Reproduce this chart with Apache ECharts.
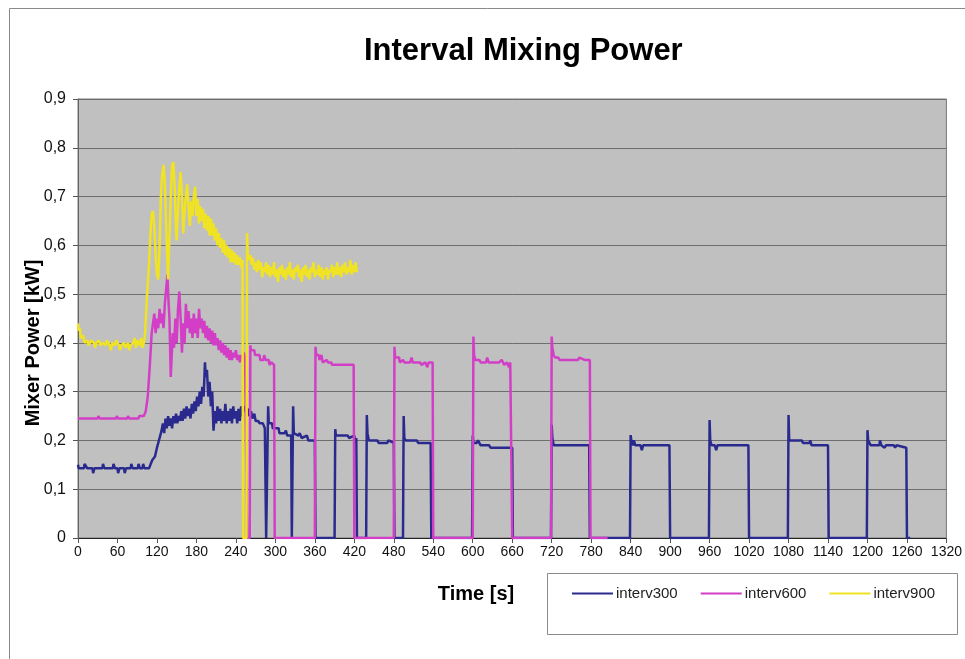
<!DOCTYPE html>
<html>
<head>
<meta charset="utf-8">
<title>Interval Mixing Power</title>
<script src="https://cdn.jsdelivr.net/npm/echarts/dist/echarts.min.js"></script>
<style>
  html, body { margin: 0; padding: 0; background: #ffffff; }
  #chart { width: 965px; height: 659px; }
</style>
</head>
<body>
<div id="chart"></div>
<script>
// Mixer power traces, [time in s, power in kW]
const interv300 = [
  [0,0.15],[1,0.143],[9,0.143],[10,0.152],[13,0.152],[14,0.143],[22,0.143],[23,0.133],[25,0.143],
  [37,0.143],[38,0.152],[40,0.143],[53,0.143],[54,0.152],[56,0.143],[60,0.143],[61,0.133],[63,0.143],
  [70,0.143],[71,0.133],[73,0.143],[80,0.143],[81,0.152],[83,0.143],[91,0.143],[92,0.152],[94,0.143],
  [98,0.143],[99,0.152],[101,0.143],[108,0.143],[110,0.15],[113,0.16],[117,0.167],[120,0.185],
  [122,0.195],[125,0.21],[127,0.22],[129,0.235],[131,0.215],[133,0.245],[135,0.225],[137,0.25],
  [139,0.23],[141,0.245],[143,0.225],[145,0.25],[147,0.235],[149,0.255],[151,0.235],[153,0.25],
  [155,0.24],[157,0.26],[159,0.24],[161,0.265],[163,0.245],[165,0.27],[167,0.25],[169,0.265],
  [171,0.245],[173,0.275],[175,0.255],[177,0.28],[179,0.26],[181,0.29],[183,0.27],[185,0.3],
  [187,0.275],[189,0.31],[191,0.29],[193,0.36],[194,0.33],[196,0.345],[198,0.29],[200,0.32],
  [202,0.27],[204,0.3],[206,0.22],[208,0.26],[210,0.235],[212,0.27],[214,0.24],[216,0.265],
  [218,0.235],[220,0.26],[222,0.24],[224,0.275],[226,0.235],[228,0.26],[230,0.24],[232,0.265],
  [234,0.235],[236,0.27],[238,0.245],[240,0.26],[242,0.235],[244,0.265],[246,0.24],[248,0.27],
  [250,0.25],[252,0.27],[255,0.26],[258,0.265],[260,0.25],[263,0.26],[265,0.245],[268,0.255],
  [270,0.24],[274,0.24],[276,0.235],[281,0.235],[284,0.225],[285,0.225],[286,0],[288,0],
  [289,0.27],[290,0.235],[295,0.235],[296,0.225],[305,0.225],[306,0.215],[314,0.215],[316,0.22],
  [318,0.21],[324,0.21],[325,0],[326,0],[327,0.27],[328,0.215],[335,0.21],[337,0.215],[340,0.205],
  [348,0.21],[350,0.2],[360,0.2],[361,0],[390,0],[391,0.223],[392,0.21],[410,0.21],[412,0.205],
  [420,0.21],[421,0.195],[423,0.205],[424,0],[438,0],[439,0.252],[440,0.215],[442,0.2],[455,0.2],
  [457,0.195],[470,0.195],[472,0.2],[480,0.195],[481,0],[494,0],[495,0.25],[496,0.205],[498,0.2],
  [515,0.2],[517,0.195],[536,0.195],[537,0],[599,0],[600,0.21],[601,0.195],[606,0.195],[608,0.2],
  [612,0.19],[625,0.19],[627,0.185],[660,0.185],[661,0],[719,0],[720,0.232],[721,0.205],[723,0.19],
  [777,0.19],[778,0],[839,0],[840,0.211],[841,0.2],[843,0.19],[845,0.2],[847,0.19],[855,0.19],
  [857,0.18],[859,0.19],[899,0.19],[900,0],[959,0],[960,0.242],[961,0.2],[963,0.19],[968,0.19],
  [970,0.18],[972,0.19],[1019,0.19],[1020,0],[1079,0],[1080,0.252],[1081,0.2],[1100,0.2],
  [1102,0.195],[1112,0.195],[1113,0.2],[1115,0.19],[1140,0.19],[1141,0],[1199,0],[1200,0.221],
  [1201,0.2],[1205,0.19],[1218,0.19],[1219,0.2],[1221,0.19],[1226,0.185],[1228,0.19],[1240,0.19],
  [1242,0.185],[1244,0.19],[1259,0.185],[1260,0],[1265,0]
];

const interv600 = [
  [0,0.245],[30,0.245],[31,0.25],[33,0.245],[58,0.245],[59,0.25],[61,0.245],[75,0.245],[76,0.25],
  [78,0.245],[92,0.245],[93,0.25],[100,0.25],[103,0.26],[106,0.29],[109,0.35],[112,0.42],
  [114,0.44],[116,0.46],[118,0.42],[120,0.45],[122,0.43],[124,0.47],[126,0.44],[128,0.46],
  [130,0.43],[132,0.48],[134,0.51],[136,0.54],[137,0.5],[139,0.45],[141,0.33],[142,0.36],
  [144,0.42],[146,0.39],[148,0.45],[150,0.4],[152,0.47],[154,0.505],[156,0.45],[158,0.38],
  [160,0.44],[162,0.4],[164,0.48],[166,0.43],[168,0.465],[170,0.42],[172,0.45],[174,0.41],
  [176,0.46],[178,0.42],[180,0.45],[182,0.41],[184,0.47],[186,0.43],[188,0.45],[190,0.42],
  [192,0.445],[194,0.41],[196,0.435],[198,0.405],[200,0.43],[202,0.4],[204,0.425],[206,0.395],
  [208,0.42],[210,0.395],[212,0.41],[214,0.385],[216,0.405],[218,0.38],[220,0.4],[222,0.375],
  [224,0.395],[226,0.37],[228,0.39],[230,0.365],[232,0.385],[234,0.365],[236,0.38],[238,0.37],
  [240,0.385],[242,0.365],[244,0.375],[246,0.36],[248,0.375],[250,0.37],[252,0.38],[254,0.37],
  [256,0.37],[257,0],[261,0],[262,0.395],[263,0.385],[268,0.385],[269,0.375],[276,0.375],
  [277,0.365],[282,0.365],[283,0.375],[285,0.365],[290,0.365],[291,0.355],[294,0.36],[298,0.355],
  [299,0],[360,0],[361,0.392],[362,0.375],[366,0.375],[367,0.365],[370,0.375],[372,0.36],
  [378,0.365],[380,0.36],[385,0.36],[386,0.355],[419,0.355],[420,0],[480,0],[481,0.392],
  [482,0.37],[488,0.37],[489,0.36],[494,0.365],[496,0.36],[505,0.36],[507,0.37],[509,0.36],
  [520,0.36],[522,0.355],[528,0.36],[531,0.35],[533,0.36],[539,0.36],[540,0],[600,0],[601,0.413],
  [602,0.375],[604,0.365],[610,0.365],[612,0.36],[620,0.36],[622,0.37],[624,0.36],[640,0.36],
  [644,0.365],[648,0.355],[652,0.36],[655,0.35],[657,0.36],[659,0.36],[660,0],[719,0],[720,0.413],
  [721,0.39],[723,0.375],[725,0.37],[730,0.37],[732,0.365],[760,0.365],[762,0.37],[770,0.365],
  [778,0.365],[779,0],[805,0]
];

const interv900 = [
  [0,0.44],[1,0.425],[3,0.43],[4,0.41],[8,0.415],[10,0.4],[14,0.405],[16,0.395],[20,0.405],
  [24,0.4],[26,0.39],[28,0.4],[32,0.405],[34,0.395],[38,0.4],[42,0.395],[44,0.405],[48,0.395],
  [50,0.385],[52,0.4],[56,0.395],[58,0.405],[62,0.395],[64,0.385],[66,0.395],[70,0.4],[72,0.39],
  [76,0.4],[78,0.385],[80,0.395],[84,0.4],[86,0.41],[88,0.39],[90,0.405],[94,0.395],[96,0.41],
  [98,0.39],[100,0.4],[102,0.42],[105,0.5],[108,0.56],[110,0.62],[112,0.665],[114,0.67],
  [116,0.64],[118,0.58],[120,0.54],[122,0.53],[124,0.6],[126,0.7],[128,0.745],[130,0.765],
  [132,0.73],[134,0.64],[136,0.56],[137,0.53],[139,0.62],[141,0.7],[143,0.765],[145,0.77],
  [147,0.72],[149,0.63],[150,0.61],[152,0.67],[154,0.72],[156,0.75],[158,0.7],[160,0.625],
  [162,0.67],[164,0.7],[166,0.725],[168,0.68],[170,0.64],[172,0.69],[174,0.66],[176,0.7],
  [178,0.72],[180,0.66],[182,0.695],[184,0.645],[186,0.68],[188,0.65],[190,0.675],[192,0.635],
  [194,0.665],[196,0.63],[198,0.66],[200,0.62],[202,0.655],[204,0.62],[206,0.645],[208,0.61],
  [210,0.635],[212,0.6],[214,0.625],[216,0.595],[218,0.615],[220,0.585],[222,0.61],[224,0.58],
  [226,0.6],[228,0.575],[230,0.595],[232,0.565],[234,0.59],[236,0.565],[238,0.585],[240,0.56],
  [242,0.58],[244,0.56],[246,0.575],[248,0.555],[250,0.57],[251,0],[256,0],[257,0.625],
  [258,0.585],[260,0.57],[262,0.58],[264,0.56],[266,0.575],[268,0.55],[270,0.565],[272,0.545],
  [274,0.57],[276,0.55],[278,0.565],[280,0.535],[282,0.555],[284,0.545],[286,0.565],[288,0.54],
  [290,0.56],[292,0.535],[294,0.555],[296,0.54],[298,0.565],[300,0.535],[302,0.55],[304,0.525],
  [306,0.555],[308,0.54],[310,0.56],[312,0.535],[314,0.55],[316,0.53],[318,0.555],[320,0.54],
  [322,0.565],[324,0.535],[326,0.55],[328,0.53],[330,0.555],[332,0.545],[334,0.56],[336,0.535],
  [338,0.55],[340,0.525],[342,0.555],[344,0.54],[346,0.56],[348,0.535],[350,0.55],[352,0.53],
  [354,0.555],[356,0.545],[358,0.565],[360,0.535],[362,0.55],[364,0.54],[366,0.56],[368,0.535],
  [370,0.555],[372,0.53],[374,0.55],[376,0.54],[378,0.555],[380,0.53],[382,0.55],[384,0.545],
  [386,0.56],[388,0.535],[390,0.555],[392,0.54],[394,0.565],[396,0.54],[398,0.555],[400,0.535],
  [402,0.56],[404,0.545],[406,0.565],[408,0.54],[410,0.555],[412,0.545],[414,0.57],[416,0.54],
  [418,0.56],[420,0.545],[422,0.565],[424,0.545]
];

const seriesNames = ['interv300', 'interv600', 'interv900'];
const seriesColors = ['#2a2a8e', '#d23fc6', '#f0e224'];

const FONT = '"Liberation Sans", Arial, sans-serif';

const chart = echarts.init(document.getElementById('chart'), null, { renderer: 'canvas' });

chart.setOption({
  animation: false,
  backgroundColor: '#ffffff',
  textStyle: { fontFamily: FONT },
  title: {
    text: 'Interval Mixing Power',
    left: 359,
    top: 31,
    textStyle: { fontFamily: FONT, fontSize: 31, fontWeight: 'bold', color: '#000' }
  },
  graphic: [
    {
      type: 'rect', z: 0, silent: true,
      shape: { x: 9.5, y: 8.5, width: 1000, height: 700 },
      style: { fill: 'none', stroke: '#8a8a8a', lineWidth: 1 }
    },
    {
      type: 'rect', z: 0, silent: true,
      shape: { x: 547.5, y: 573.5, width: 410, height: 61 },
      style: { fill: '#ffffff', stroke: '#8a8a8a', lineWidth: 1 }
    },
    {
      type: 'text', z: 10, silent: true,
      x: 33, y: 343, rotation: Math.PI / 2,
      style: {
        text: 'Mixer Power [kW]', fill: '#000',
        font: 'bold 20px ' + FONT, align: 'center', verticalAlign: 'middle'
      }
    },
    {
      type: 'text', z: 10, silent: true,
      x: 476, y: 594,
      style: {
        text: 'Time [s]', fill: '#000',
        font: 'bold 20px ' + FONT, align: 'center', verticalAlign: 'middle'
      }
    }
  ],
  legend: {
    left: 572,
    top: 586,
    padding: 0,
    itemWidth: 41,
    itemHeight: 2,
    itemGap: 23,
    icon: 'rect',
    data: seriesNames,
    textStyle: { fontFamily: FONT, fontSize: 15, color: '#222', padding: [0, 0, 0, -2] }
  },
  grid: {
    left: 78, right: 18, top: 99, bottom: 121,
    show: true,
    backgroundColor: '#c0c0c0',
    borderColor: '#7a7a7a',
    borderWidth: 1
  },
  xAxis: {
    type: 'value',
    min: 0, max: 1320, interval: 60,
    axisLine: { show: true, lineStyle: { color: '#222', width: 1 } },
    axisTick: { show: true, length: 5, lineStyle: { color: '#555' } },
    axisLabel: {
      fontFamily: FONT, fontSize: 14, color: '#111', margin: 7,
      formatter: v => String(v)
    },
    splitLine: { show: false }
  },
  yAxis: {
    type: 'value',
    min: 0, max: 0.9, interval: 0.1,
    axisLine: { show: true, lineStyle: { color: '#666', width: 1 } },
    axisTick: { show: true, length: 5, lineStyle: { color: '#555' } },
    axisLabel: {
      fontFamily: FONT, fontSize: 16, color: '#111', margin: 12,
      formatter: v => (v === 0 ? '0' : v.toFixed(1).replace('.', ','))
    },
    splitLine: { show: true, lineStyle: { color: '#6e6e6e', width: 1 } }
  },
  series: [interv300, interv600, interv900].map((d, i) => ({
    name: seriesNames[i],
    type: 'line',
    data: d,
    showSymbol: false,
    symbol: 'none',
    color: seriesColors[i],
    lineStyle: { color: seriesColors[i], width: 2.5 },
    emphasis: { disabled: true }
  }))
});
</script>
</body>
</html>
